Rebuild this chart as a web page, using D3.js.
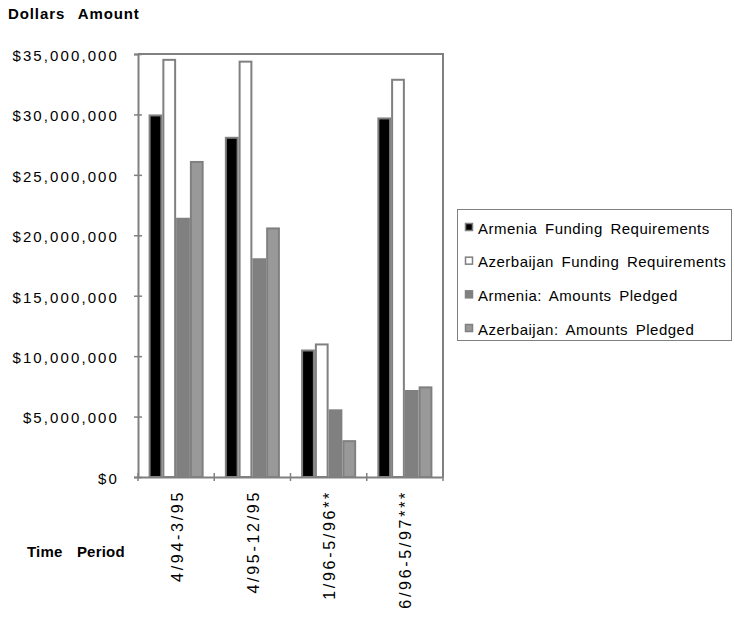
<!DOCTYPE html>
<html>
<head>
<meta charset="utf-8">
<script src="https://cdn.jsdelivr.net/npm/d3@7"></script>
<style>
  html, body { margin: 0; padding: 0; background: #fff; }
  svg { display: block; font-family: "Liberation Sans", Arial, sans-serif; }
</style>
</head>
<body>
<svg id="chart" width="735" height="618"></svg>
<script>
const categories = ["4/94-3/95", "4/95-12/95", "1/96-5/96**", "6/96-5/97***"];
const seriesNames = [
  "Armenia Funding Requirements",
  "Azerbaijan Funding Requirements",
  "Armenia: Amounts Pledged",
  "Azerbaijan: Amounts Pledged"
];
const armeniaRequirements = [30000000, 28150000, 10550000, 29750000];
const azerbaijanRequirements = [34600000, 34450000, 11050000, 32950000];
const armeniaPledged = [21450000, 18100000, 5600000, 7200000];
const azerbaijanPledged = [26150000, 20650000, 3050000, 7500000];
const yTicks = [0, 5000000, 10000000, 15000000, 20000000, 25000000, 30000000, 35000000];

(function () {
const seriesValues = [armeniaRequirements, azerbaijanRequirements, armeniaPledged, azerbaijanPledged];
const fills = ["#000000", "#ffffff", "#808080", "#999999"];
const strokeC = "#808080";

const svg = d3.select("#chart");
const pl = 138, pr = 443, pt = 54, pb = 477;

const x = d3.scaleBand().domain(categories).range([pl, pr]).padding(0);
const xi = d3.scaleBand().domain(d3.range(4)).range([0, x.bandwidth()]).paddingInner(0).paddingOuter(0.77);
const y = d3.scaleLinear().domain([0, 35000000]).range([pb, pt]);

// plot frame (top and right)
svg.append("path")
  .attr("d", `M${pl},${pt}H${pr}V${pb}`)
  .attr("fill", "none").attr("stroke", strokeC).attr("stroke-width", 2);

// bars
const data = [];
categories.forEach((c, ci) => {
  seriesValues.forEach((vals, si) => data.push({c, si, v: vals[ci]}));
});
svg.append("g").selectAll("rect").data(data).join("rect")
  .attr("x", d => x(d.c) + xi(d.si) + 1)
  .attr("width", xi.bandwidth() - 2)
  .attr("y", d => y(d.v) + 1)
  .attr("height", d => y(0) - y(d.v) - 1)
  .attr("fill", d => fills[d.si])
  .attr("stroke", strokeC)
  .attr("stroke-width", 2);

// y axis
const yAxis = d3.axisLeft(y).tickValues(yTicks).tickSize(4);
const gy = svg.append("g").attr("transform", `translate(${pl},0)`).call(yAxis);
gy.select(".domain").attr("stroke", strokeC).attr("stroke-width", 2);
gy.selectAll(".tick line").attr("stroke", strokeC).attr("stroke-width", 1.5).attr("x2", 4).attr("x1", -4);
gy.selectAll(".tick text")
  .attr("x", -19).attr("dy", "0.42em")
  .attr("font-size", 15).attr("letter-spacing", 2.1)
  .attr("font-family", "Liberation Sans, Arial, sans-serif")
  .attr("fill", "#000")
  .text(d => d === 0 ? "$0" : "$" + d3.format(",")(d));

// x axis
const xAxis = d3.axisBottom(x).tickSize(0).tickFormat("");
const gx = svg.append("g").attr("transform", `translate(0,${pb})`).call(xAxis);
gx.select(".domain").attr("stroke", strokeC).attr("stroke-width", 2);
gx.selectAll(".tick").remove();
const boundaries = categories.map(c => x(c)).concat([pr]);
gx.selectAll(".bt").data(boundaries).join("line")
  .attr("x1", d => d).attr("x2", d => d).attr("y1", -4).attr("y2", 4)
  .attr("stroke", strokeC).attr("stroke-width", 1.5);
gx.selectAll(".cl").data(categories).join("text")
  .attr("transform", d => `translate(${x(d) + x.bandwidth() / 2 + 6.5},13) rotate(-90)`)
  .attr("text-anchor", "end")
  .attr("font-size", 16).attr("letter-spacing", 2.7)
  .attr("fill", "#000")
  .text(d => d);

// titles
svg.append("text").attr("x", 8).attr("y", 18.5)
  .attr("font-size", 15).attr("font-weight", "bold")
  .attr("letter-spacing", 0.9).attr("word-spacing", 8)
  .text("Dollars Amount");
svg.append("text").attr("x", 27).attr("y", 557)
  .attr("font-size", 15).attr("font-weight", "bold")
  .attr("letter-spacing", 0.2).attr("word-spacing", 10)
  .text("Time Period");

// legend
const lg = svg.append("g");
lg.append("rect").attr("x", 457.5).attr("y", 209.5).attr("width", 274).attr("height", 131)
  .attr("fill", "#fff").attr("stroke", strokeC).attr("stroke-width", 1);
const legendY = d3.scalePoint().domain(seriesNames).range([228, 329]);
const items = lg.selectAll(".li").data(seriesNames).join("g")
  .attr("transform", d => `translate(0,${legendY(d)})`);
items.append("rect").attr("x", 465.5).attr("y", -4.5).attr("width", 7).attr("height", 7)
  .attr("fill", (d, i) => fills[i]).attr("stroke", strokeC).attr("stroke-width", 1.5);
items.append("text").attr("x", 478).attr("y", 5.5)
  .attr("font-size", 15).attr("fill", "#000")
  .attr("letter-spacing", 0.5).attr("word-spacing", 3)
  .text(d => d);
})();
</script>
</body>
</html>
